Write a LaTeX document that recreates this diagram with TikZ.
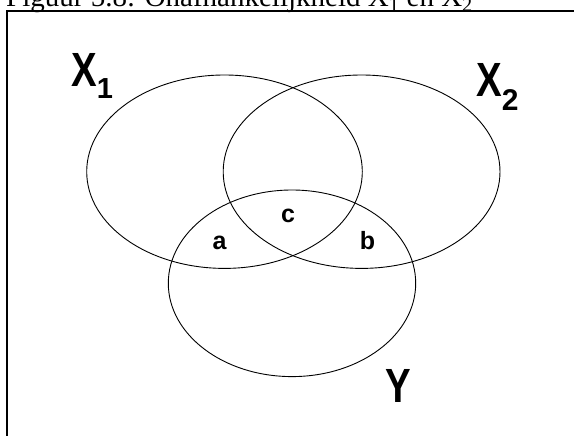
\documentclass[tikz,border=0pt]{standalone}
\usepackage{fontspec}
\setmainfont{Liberation Serif}
\newfontfamily\arial{Liberation Sans}
\usepackage{tikz}
\usetikzlibrary{positioning}

\begin{document}
\begin{tikzpicture}[x=1pt,y=-1pt,
    set/.style={line width=0.9pt},
    big/.style={inner sep=0pt,anchor=base west,font=\arial\bfseries\fontsize{48}{48}\selectfont},
    small/.style={inner sep=0pt,anchor=base,font=\arial\bfseries\fontsize{25}{25}\selectfont}]
        \useasboundingbox (0,0) rectangle (574,436);
        \clip (0,0) rectangle (574,436);
        % caption, cut off at the top
        \node[inner sep=0pt,anchor=base west,font=\fontsize{29}{29}\selectfont] (caption) at (6,6.5)
            {Figuur 5.8: Onafhankelijkheid X\textsubscript{1} en X\textsubscript{2}};
        \draw[line width=1.5pt] (7,440) -- (7,11) -- (580,11);
        % the three sets
        \draw[set] (224.5,171.7) ellipse [x radius=137.8, y radius=96.7];
        \draw[set] (361.6,171.7) ellipse [x radius=138.4, y radius=96.7];
        \draw[set] (292,283.3) ellipse [x radius=123.7, y radius=93.3];
        \node[big] (xone) at (71,87) {\scalebox{.8}[1]{X}\raisebox{-12pt}{\fontsize{29}{29}\selectfont 1}};
        \node[big] (xtwo) at (476,96.5) {\scalebox{.8}[1]{X}\raisebox{-13.5pt}{\fontsize{30}{30}\selectfont 2}};
        \node[big] (yset) at (385,402) {\scalebox{.8}[1]{Y}};
        \node[small] (a) at (219.5,249) {a};
        \node[small] (c) at (288,222.5) {c};
        \node[small] (b) at (367.5,249) {b};
\end{tikzpicture}
\end{document}
